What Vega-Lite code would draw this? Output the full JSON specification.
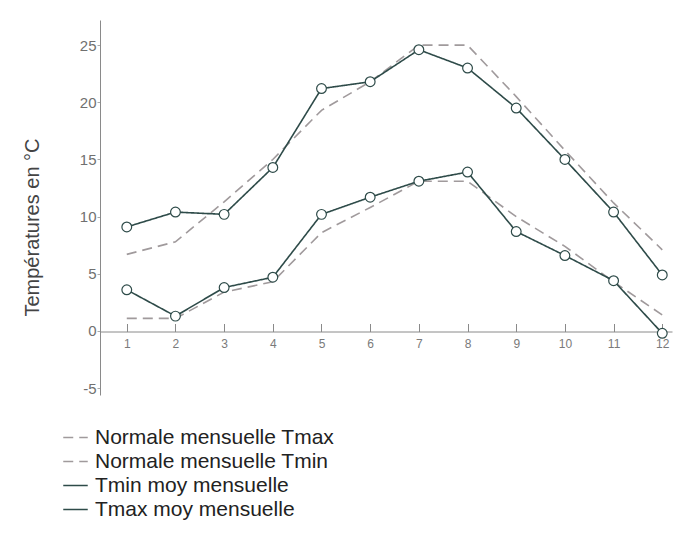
{
  "$schema": "https://vega.github.io/schema/vega-lite/v6.json",
  "width": 572,
  "height": 375,
  "autosize": {"type": "none"},
  "padding": {"left": 100, "top": 20, "right": 6, "bottom": 163},
  "background": "#ffffff",
  "config": {
    "font": "Liberation Sans",
    "view": {"stroke": null}
  },
  "data": {
    "values": [
      {"month": 1, "series": "Normale mensuelle Tmax", "temp": 6.7},
      {"month": 2, "series": "Normale mensuelle Tmax", "temp": 7.8},
      {"month": 3, "series": "Normale mensuelle Tmax", "temp": 11.3},
      {"month": 4, "series": "Normale mensuelle Tmax", "temp": 15.0},
      {"month": 5, "series": "Normale mensuelle Tmax", "temp": 19.3},
      {"month": 6, "series": "Normale mensuelle Tmax", "temp": 21.8},
      {"month": 7, "series": "Normale mensuelle Tmax", "temp": 25.0},
      {"month": 8, "series": "Normale mensuelle Tmax", "temp": 25.0},
      {"month": 9, "series": "Normale mensuelle Tmax", "temp": 20.5},
      {"month": 10, "series": "Normale mensuelle Tmax", "temp": 15.8},
      {"month": 11, "series": "Normale mensuelle Tmax", "temp": 11.2},
      {"month": 12, "series": "Normale mensuelle Tmax", "temp": 7.1},
      {"month": 1, "series": "Normale mensuelle Tmin", "temp": 1.1},
      {"month": 2, "series": "Normale mensuelle Tmin", "temp": 1.1},
      {"month": 3, "series": "Normale mensuelle Tmin", "temp": 3.4},
      {"month": 4, "series": "Normale mensuelle Tmin", "temp": 4.3},
      {"month": 5, "series": "Normale mensuelle Tmin", "temp": 8.6},
      {"month": 6, "series": "Normale mensuelle Tmin", "temp": 10.8},
      {"month": 7, "series": "Normale mensuelle Tmin", "temp": 13.1},
      {"month": 8, "series": "Normale mensuelle Tmin", "temp": 13.1},
      {"month": 9, "series": "Normale mensuelle Tmin", "temp": 10.0},
      {"month": 10, "series": "Normale mensuelle Tmin", "temp": 7.4},
      {"month": 11, "series": "Normale mensuelle Tmin", "temp": 4.3},
      {"month": 12, "series": "Normale mensuelle Tmin", "temp": 1.4},
      {"month": 1, "series": "Tmin moy mensuelle", "temp": 3.6},
      {"month": 2, "series": "Tmin moy mensuelle", "temp": 1.3},
      {"month": 3, "series": "Tmin moy mensuelle", "temp": 3.8},
      {"month": 4, "series": "Tmin moy mensuelle", "temp": 4.7},
      {"month": 5, "series": "Tmin moy mensuelle", "temp": 10.2},
      {"month": 6, "series": "Tmin moy mensuelle", "temp": 11.7},
      {"month": 7, "series": "Tmin moy mensuelle", "temp": 13.1},
      {"month": 8, "series": "Tmin moy mensuelle", "temp": 13.9},
      {"month": 9, "series": "Tmin moy mensuelle", "temp": 8.7},
      {"month": 10, "series": "Tmin moy mensuelle", "temp": 6.6},
      {"month": 11, "series": "Tmin moy mensuelle", "temp": 4.4},
      {"month": 12, "series": "Tmin moy mensuelle", "temp": -0.2},
      {"month": 1, "series": "Tmax moy mensuelle", "temp": 9.1},
      {"month": 2, "series": "Tmax moy mensuelle", "temp": 10.4},
      {"month": 3, "series": "Tmax moy mensuelle", "temp": 10.2},
      {"month": 4, "series": "Tmax moy mensuelle", "temp": 14.3},
      {"month": 5, "series": "Tmax moy mensuelle", "temp": 21.2},
      {"month": 6, "series": "Tmax moy mensuelle", "temp": 21.8},
      {"month": 7, "series": "Tmax moy mensuelle", "temp": 24.6},
      {"month": 8, "series": "Tmax moy mensuelle", "temp": 23.0},
      {"month": 9, "series": "Tmax moy mensuelle", "temp": 19.5},
      {"month": 10, "series": "Tmax moy mensuelle", "temp": 15.0},
      {"month": 11, "series": "Tmax moy mensuelle", "temp": 10.4},
      {"month": 12, "series": "Tmax moy mensuelle", "temp": 4.9}
    ]
  },
  "encoding": {
    "x": {
      "field": "month",
      "type": "quantitative",
      "scale": {"domain": [0.45, 12.2], "nice": false, "zero": false},
      "axis": {
        "title": null,
        "orient": "bottom",
        "offset": -63.5,
        "values": [1, 2, 3, 4, 5, 6, 7, 8, 9, 10, 11, 12],
        "grid": false,
        "domainColor": "#8a8a8a",
        "tickColor": "#8a8a8a",
        "tickSize": -8,
        "labelPadding": 15,
        "labelFontSize": 12,
        "labelColor": "#7a7a7a"
      }
    },
    "y": {
      "field": "temp",
      "type": "quantitative",
      "scale": {"domain": [-5.6, 27.2], "nice": false, "zero": false},
      "axis": {
        "title": "Températures en °C",
        "titleFontSize": 20,
        "titleFontWeight": "normal",
        "titleColor": "#444444",
        "titlePadding": 37,
        "titleY": 207,
        "values": [-5, 0, 5, 10, 15, 20, 25],
        "labelExpr": "'' + datum.value",
        "grid": false,
        "domainColor": "#8a8a8a",
        "tickColor": "#aaaaaa",
        "tickSize": 3,
        "labelPadding": 1,
        "labelFontSize": 15,
        "labelColor": "#707070"
      }
    }
  },
  "layer": [
    {
      "mark": {"type": "line", "strokeWidth": 1.6},
      "encoding": {
        "color": {
          "field": "series",
          "type": "nominal",
          "scale": {
            "domain": ["Normale mensuelle Tmax", "Normale mensuelle Tmin", "Tmin moy mensuelle", "Tmax moy mensuelle"],
            "range": ["#a09a9c", "#a09a9c", "#2e4b49", "#2e4b49"]
          },
          "legend": {
            "title": null,
            "orient": "none",
            "legendX": -38,
            "legendY": 404,
            "symbolType": "stroke",
            "symbolSize": 600,
            "symbolStrokeWidth": 1.6,
            "labelFontSize": 21,
            "labelLimit": 0,
            "labelColor": "#222222",
            "rowPadding": 0,
            "labelOffset": 6
          }
        },
        "strokeDash": {
          "field": "series",
          "type": "nominal",
          "scale": {
            "domain": ["Normale mensuelle Tmax", "Normale mensuelle Tmin", "Tmin moy mensuelle", "Tmax moy mensuelle"],
            "range": [[10, 6], [10, 6], [1, 0], [1, 0]]
          },
          "legend": null
        }
      }
    },
    {
      "transform": [{"filter": "indexof(datum.series, 'moy') >= 0"}],
      "mark": {"type": "point", "filled": true, "fill": "#ffffff", "stroke": "#2e4b49", "strokeWidth": 1.2, "size": 95, "opacity": 1}
    }
  ]
}
